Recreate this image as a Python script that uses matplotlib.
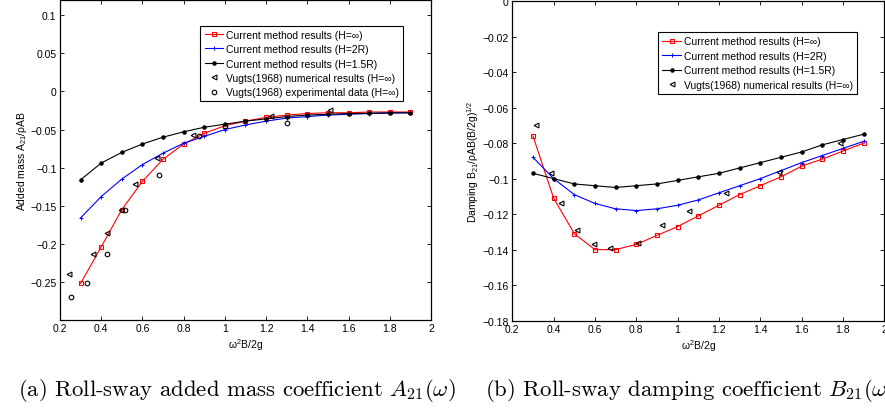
import matplotlib
matplotlib.use("Agg")
import matplotlib.pyplot as plt

# ---------------- data ----------------
x_cur = [0.3, 0.4, 0.5, 0.6, 0.7, 0.8, 0.9, 1.0, 1.1, 1.2, 1.3, 1.4, 1.5, 1.6, 1.7, 1.8, 1.9]

# (a) added mass A21
a_inf = [-0.252, -0.204, -0.155, -0.118, -0.089, -0.069, -0.055, -0.045, -0.039, -0.034,
         -0.031, -0.029, -0.028, -0.028, -0.027, -0.027, -0.027]
a_2r = [-0.166, -0.138, -0.115, -0.096, -0.081, -0.068, -0.059, -0.050, -0.044, -0.039,
        -0.035, -0.033, -0.031, -0.030, -0.029, -0.0285, -0.028]
a_15r = [-0.116, -0.094, -0.080, -0.069, -0.060, -0.053, -0.047, -0.043, -0.039, -0.036,
         -0.033, -0.031, -0.030, -0.029, -0.0287, -0.028, -0.028]
a_vnum_x = [0.245, 0.362, 0.426, 0.495, 0.564, 0.669, 0.847, 1.222, 1.51]
a_vnum_y = [-0.240, -0.214, -0.186, -0.155, -0.122, -0.088, -0.057, -0.032, -0.024]
a_vexp_x = [0.252, 0.332, 0.426, 0.515, 0.679, 0.876, 1.0, 1.303]
a_vexp_y = [-0.270, -0.252, -0.214, -0.156, -0.110, -0.058, -0.045, -0.041]

# (b) damping B21
b_inf = [-0.076, -0.111, -0.131, -0.140, -0.140, -0.137, -0.132, -0.127, -0.121, -0.115,
         -0.109, -0.104, -0.099, -0.093, -0.089, -0.0845, -0.080]
b_2r = [-0.088, -0.100, -0.109, -0.114, -0.117, -0.118, -0.117, -0.115, -0.112, -0.108,
        -0.104, -0.100, -0.0955, -0.091, -0.087, -0.083, -0.079]
b_15r = [-0.097, -0.100, -0.103, -0.104, -0.105, -0.104, -0.103, -0.101, -0.099, -0.097,
         -0.094, -0.091, -0.088, -0.085, -0.081, -0.078, -0.075]
b_vnum_x = [0.315, 0.387, 0.437, 0.512, 0.596, 0.673, 0.806, 0.924, 1.053, 1.234, 1.492, 1.786]
b_vnum_y = [-0.070, -0.097, -0.114, -0.129, -0.137, -0.139, -0.136, -0.126, -0.118, -0.108,
            -0.096, -0.080]

labels = ["Current method results (H=\u221e)",
          "Current method results (H=2R)",
          "Current method results (H=1.5R)",
          "Vugts(1968) numerical results (H=\u221e)",
          "Vugts(1968) experimental data (H=\u221e)"]

xticks = [0.2, 0.4, 0.6, 0.8, 1.0, 1.2, 1.4, 1.6, 1.8, 2.0]
xticklabels = ["0.2", "0.4", "0.6", "0.8", "1", "1.2", "1.4", "1.6", "1.8", "2"]
a_yticks = [-0.25, -0.2, -0.15, -0.1, -0.05, 0, 0.05, 0.1]
a_yticklabels = ["\u22120.25", "\u22120.2", "\u22120.15", "\u22120.1", "\u22120.05", "0", "0.05", "0.1"]
b_yticks = [-0.18, -0.16, -0.14, -0.12, -0.1, -0.08, -0.06, -0.04, -0.02, 0]
b_yticklabels = ["\u22120.18", "\u22120.16", "\u22120.14", "\u22120.12", "\u22120.1",
                 "\u22120.08", "\u22120.06", "\u22120.04", "\u22120.02", "0"]

# ---------------- style ----------------
plt.rcParams['font.family'] = ['Liberation Sans', 'DejaVu Sans']
plt.rcParams['mathtext.fontset'] = 'custom'
plt.rcParams['mathtext.rm'] = 'Liberation Sans'
plt.rcParams['mathtext.it'] = 'Liberation Sans:italic'

FS = 7.5
fig = plt.figure(figsize=(8.85, 4.10), dpi=100)
W, H = 885.0, 410.0

def make_ax(l, r, t, b):
    return fig.add_axes([l / W, 1 - b / H, (r - l) / W, (b - t) / H])

axA = make_ax(60, 431, 1, 321)
axB = make_ax(512.3, 884.3, 2, 321.7)

lw = 0.8
def curves(ax, yinf, y2r, y15r):
    h1, = ax.plot(x_cur, yinf, color='red', ls='-', lw=lw, marker='s', ms=3.2, mfc='none', mew=0.8)
    h2, = ax.plot(x_cur, y2r, color='blue', ls='-', lw=lw, marker='+', ms=3.5, mew=0.7)
    h3, = ax.plot(x_cur, y15r, color='black', ls='-', lw=lw, marker='.', ms=4.5)
    return [h1, h2, h3]

hA = curves(axA, a_inf, a_2r, a_15r)
hA.append(axA.plot(a_vnum_x, a_vnum_y, color='black', marker='<', ms=3.5, mfc='none', mew=0.8, ls='none')[0])
hA.append(axA.plot(a_vexp_x, a_vexp_y, color='black', marker='o', ms=3.3, mfc='none', mew=0.8, ls='none')[0])

hB = curves(axB, b_inf, b_2r, b_15r)
hB.append(axB.plot(b_vnum_x, b_vnum_y, color='black', marker='<', ms=3.5, mfc='none', mew=0.8, ls='none')[0])

for ax in (axA, axB):
    ax.set_xlim(0.2, 2.0)
    ax.set_xticks(xticks)
    ax.set_xticklabels(xticklabels)
    ax.tick_params(direction='in', top=True, right=True, length=3, width=0.6,
                   labelsize=FS, pad=2.5, colors='black')
    for s in ax.spines.values():
        s.set_linewidth(0.9)
    ax.set_xlabel("\u03c9$\\mathregular{^2}$B/2g", fontsize=FS, labelpad=2)

axA.set_ylim(-0.3, 0.12)
axA.set_yticks(a_yticks)
axA.set_yticklabels(a_yticklabels)
axA.set_ylabel("Added mass A$\\mathregular{_{21}}$/\u03c1AB", fontsize=FS, labelpad=1)

axB.set_ylim(-0.18, 0.0)
axB.set_yticks(b_yticks)
axB.set_yticklabels(b_yticklabels)
axB.set_ylabel("Damping B$\\mathregular{_{21}}$/\u03c1AB(B/2g)$\\mathregular{^{1/2}}$", fontsize=FS, labelpad=1)

legkw = dict(fontsize=FS, frameon=True, fancybox=False, framealpha=1, edgecolor='black',
             borderpad=0.4, labelspacing=0.42, handlelength=1.8, handletextpad=0.25,
             borderaxespad=0, loc='upper right')
lgA = axA.legend(hA, labels, bbox_to_anchor=(0.925, 0.92), **legkw)
lgB = axB.legend(hB, labels[:4], bbox_to_anchor=(0.927, 0.902), **legkw)
for lg in (lgA, lgB):
    lg.get_frame().set_linewidth(0.8)

cap_fs = 16.4
fig.text(18 / W, 1 - 396.5 / H, r"(a) Roll-sway added mass coefficient $A_{21}(\omega)$",
         fontfamily='cmr10', math_fontfamily='cm', fontsize=cap_fs, va='baseline', ha='left')
fig.text(485 / W, 1 - 396.5 / H, r"(b) Roll-sway damping coefficient $B_{21}(\omega)$",
         fontfamily='cmr10', math_fontfamily='cm', fontsize=cap_fs, va='baseline', ha='left')

fig.savefig("out.png", dpi=100)
